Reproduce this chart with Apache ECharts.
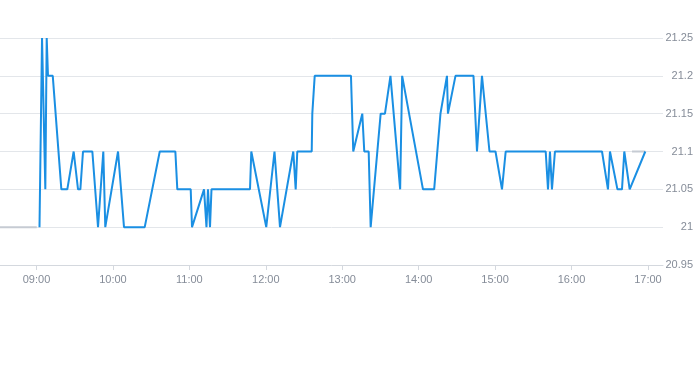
<!DOCTYPE html>
<html>
<head>
<meta charset="utf-8">
<script src="https://cdn.jsdelivr.net/npm/echarts@6/dist/echarts.min.js"></script>
<style>
html,body{margin:0;padding:0;background:#fff;}
#chart{width:693px;height:365px;}
</style>
</head>
<body>
<div id="chart"></div>
<script>
var day = '2024-01-02 ';
var times = ['09:02:20','09:04:20','09:06:55','09:08:00','09:09:00','09:12:45','09:19:30','09:24:10','09:29:10','09:32:35','09:34:25','09:36:30','09:43:50','09:48:17','09:52:26','09:54:00',
  '10:04:00','10:08:41','10:24:57','10:36:45','10:49:00','10:50:32','11:01:03','11:02:04','11:11:30','11:13:26','11:14:37','11:16:12','11:17:22','11:47:36','11:48:37',
  '12:00:22','12:06:50','12:11:09','12:21:35','12:23:28','12:24:43','12:36:03','12:36:31','12:38:24','13:06:52','13:08:40','13:15:45','13:17:19','13:20:46','13:22:20',
  '13:30:11','13:33:33','13:37:52','13:45:29','13:47:03','14:03:24','14:12:11','14:17:08','14:18:42','14:22:14','14:23:00','14:28:55','14:43:03','14:45:48','14:49:43','14:50:54',
  '14:55:37','15:00:20','15:05:26','15:08:20','15:39:45','15:41:33','15:43:06','15:44:40','15:47:00','16:23:57','16:28:38','16:30:12','16:36:04','16:39:38',
  '16:41:27','16:45:40','16:57:56'];
var prices = [21.0,21.25,21.05,21.25,21.2,21.2,21.05,21.05,21.1,21.05,21.05,21.1,21.1,21.0,21.1,21.0,
  21.1,21.0,21.0,21.1,21.1,21.05,21.05,21.0,21.05,21.0,21.05,21.0,21.05,21.05,21.1,
  21.0,21.1,21.0,21.1,21.05,21.1,21.1,21.15,21.2,21.2,21.1,21.15,21.1,21.1,21.0,
  21.15,21.15,21.2,21.05,21.2,21.05,21.05,21.15,21.15,21.2,21.15,21.2,21.2,21.1,21.2,21.2,
  21.1,21.1,21.05,21.1,21.1,21.05,21.1,21.05,21.1,21.1,21.05,21.1,21.05,21.05,
  21.1,21.05,21.1];
var refTimes = ['08:31:20','09:00:10',null,'16:47:30','16:57:56'];
var refValues = [21.0,21.0,null,21.1,21.1];
var yTicks = [20.95,21.25,0.05];
var xRange = ['08:31:20','17:11:50'];

var mainData = times.map(function(t,i){return [day+t, prices[i]];});
var refData = refTimes.map(function(t,i){return t===null ? [null,null] : [day+t, refValues[i]];});

var chart = echarts.init(document.getElementById('chart'));
chart.setOption({
  animation:false,
  grid:{left:0,right:30,top:38,bottom:100,containLabel:false,outerBoundsMode:'none'},
  xAxis:{
    type:'time',
    min:day+xRange[0], max:day+xRange[1],
    minInterval:3600000, maxInterval:3600000,
    axisLine:{lineStyle:{color:'#d4d8de'}},
    axisTick:{show:true,length:5,lineStyle:{color:'#d4d8de'}},
    axisLabel:{formatter:'{HH}:{mm}',color:'#858c98',fontSize:11,margin:9,fontFamily:'Liberation Sans, Arial, sans-serif',showMinLabel:false,showMaxLabel:false},
    splitLine:{show:false}
  },
  yAxis:{
    type:'value', position:'right',
    min:yTicks[0], max:yTicks[1], interval:yTicks[2],
    axisLine:{show:false}, axisTick:{show:false},
    axisLabel:{color:'#858c98',fontSize:11,align:'right',margin:30,fontFamily:'Liberation Sans, Arial, sans-serif'},
    splitLine:{lineStyle:{color:'#e3e6ea'}}
  },
  series:[
    {type:'line',data:refData,showSymbol:false,connectNulls:false,lineStyle:{color:'#c6cbd3',width:2},itemStyle:{color:'#c6cbd3'},z:1},
    {type:'line',data:mainData,showSymbol:false,lineStyle:{color:'#1a8fe3',width:2},itemStyle:{color:'#1a8fe3'},z:2}
  ]
});
</script>
</body>
</html>
